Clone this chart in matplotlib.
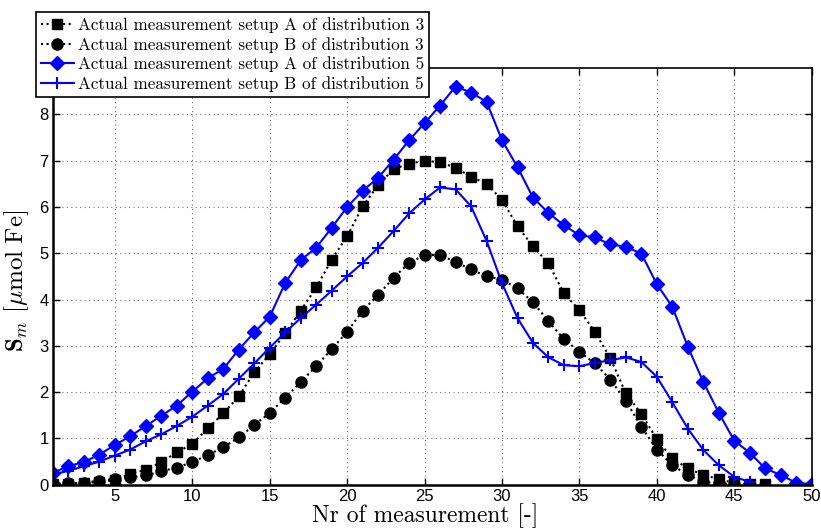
import numpy as np
import matplotlib.pyplot as plt

# measurement number axis
n_A3 = np.arange(1, 48)
n_B3 = np.arange(1, 46)
n_A5 = np.arange(1, 51)
n_B5 = np.arange(1, 47)

# setup A, distribution 3 (squares)
s_A3 = [0.02, 0.02, 0.03, 0.06, 0.10, 0.24, 0.32, 0.49, 0.70, 0.88,
        1.22, 1.54, 1.91, 2.43, 2.82, 3.27, 3.76, 4.26, 4.86, 5.37,
        6.01, 6.47, 6.82, 6.93, 7.00, 6.96, 6.85, 6.65, 6.50, 6.15,
        5.58, 5.15, 4.78, 4.13, 3.77, 3.30, 2.73, 1.97, 1.53, 0.98,
        0.57, 0.35, 0.21, 0.12, 0.04, 0.01, 0.01]
# setup B, distribution 3 (circles)
s_B3 = [0.01, 0.03, 0.04, 0.09, 0.12, 0.16, 0.20, 0.29, 0.37, 0.49,
        0.64, 0.81, 1.02, 1.29, 1.55, 1.88, 2.22, 2.56, 2.93, 3.30,
        3.76, 4.10, 4.47, 4.79, 4.96, 4.96, 4.81, 4.65, 4.50, 4.43,
        4.24, 3.94, 3.53, 3.14, 2.87, 2.62, 2.27, 1.81, 1.25, 0.76,
        0.42, 0.21, 0.06, 0.03, 0.01]
# setup A, distribution 5 (diamonds)
s_A5 = [0.26, 0.40, 0.49, 0.65, 0.86, 1.05, 1.27, 1.49, 1.71, 2.01,
        2.30, 2.50, 2.92, 3.29, 3.63, 4.36, 4.85, 5.12, 5.55, 6.00,
        6.35, 6.63, 7.02, 7.44, 7.81, 8.19, 8.60, 8.47, 8.27, 7.44,
        6.86, 6.20, 5.87, 5.60, 5.39, 5.34, 5.19, 5.14, 4.99, 4.33,
        3.84, 2.98, 2.22, 1.55, 0.95, 0.69, 0.35, 0.21, 0.04, 0.01]
# setup B, distribution 5 (plus)
s_B5 = [0.22, 0.30, 0.40, 0.50, 0.63, 0.76, 0.94, 1.09, 1.27, 1.47,
        1.71, 1.96, 2.29, 2.62, 2.96, 3.29, 3.60, 3.89, 4.19, 4.50,
        4.79, 5.12, 5.48, 5.86, 6.16, 6.42, 6.38, 6.01, 5.27, 4.35,
        3.60, 3.06, 2.75, 2.58, 2.56, 2.63, 2.69, 2.75, 2.65, 2.33,
        1.78, 1.21, 0.75, 0.42, 0.17, 0.06]

labels = ['Actual measurement setup A of distribution 3',
          'Actual measurement setup B of distribution 3',
          'Actual measurement setup A of distribution 5',
          'Actual measurement setup B of distribution 5']

plt.rcParams['mathtext.fontset'] = 'cm'
plt.rcParams['axes.unicode_minus'] = False

fig = plt.figure(figsize=(8.21, 5.31), dpi=100)
ax = fig.add_axes([53/821, 1-484.7/531, (811.7-53)/821, (484.7-68)/531])

ax.plot(n_A3, s_A3, 'k:s', lw=1.5, ms=6.5, label=labels[0])
ax.plot(n_B3, s_B3, 'k:o', lw=1.5, ms=8, label=labels[1])
ax.plot(n_A5, s_A5, '-D', color='blue', lw=1.5, ms=7, label=labels[2])
ax.plot(n_B5, s_B5, '-+', color='blue', lw=1.5, ms=8, mew=1.5, label=labels[3])

ax.set_xlim(1, 50)
ax.set_ylim(0, 9)
ax.set_xticks(range(5, 51, 5))
ax.set_yticks(range(0, 9))
ax.grid(True, linestyle=(0, (1, 3)), color='0.45', lw=0.8)
ax.tick_params(direction='in', top=True, right=True, length=5, width=1,
               labelsize=12, pad=3)
for lab in ax.get_xticklabels() + ax.get_yticklabels():
    lab.set_fontfamily('Liberation Sans')
for sp in ax.spines.values():
    sp.set_linewidth(1.2)
ax.spines['left'].set_linewidth(1.8)
ax.spines['bottom'].set_linewidth(1.8)

ax.set_xlabel('Nr of measurement [-]', fontfamily='cmr10', fontsize=17, labelpad=0)
ax.set_ylabel(r'$\mathbf{S}_m\ [\mu\mathrm{mol\ Fe}]$', fontsize=18)
ax.xaxis.set_label_coords(0.49, -0.045, transform=ax.transAxes)
ax.yaxis.set_label_coords(-0.029, 0.488, transform=ax.transAxes)
ax.xaxis.label.set_va('top')

leg = ax.legend(loc='upper left', bbox_to_anchor=(36/821, 1-12/531),
                bbox_transform=fig.transFigure, prop={'family': 'cmr10', 'size': 12.3},
                frameon=True, fancybox=False, edgecolor='black', framealpha=1,
                borderpad=0.3, labelspacing=0.22, handlelength=1.9,
                handletextpad=0.25, borderaxespad=0)
leg.get_frame().set_linewidth(1.2)

fig.savefig('out.png', dpi=100)
